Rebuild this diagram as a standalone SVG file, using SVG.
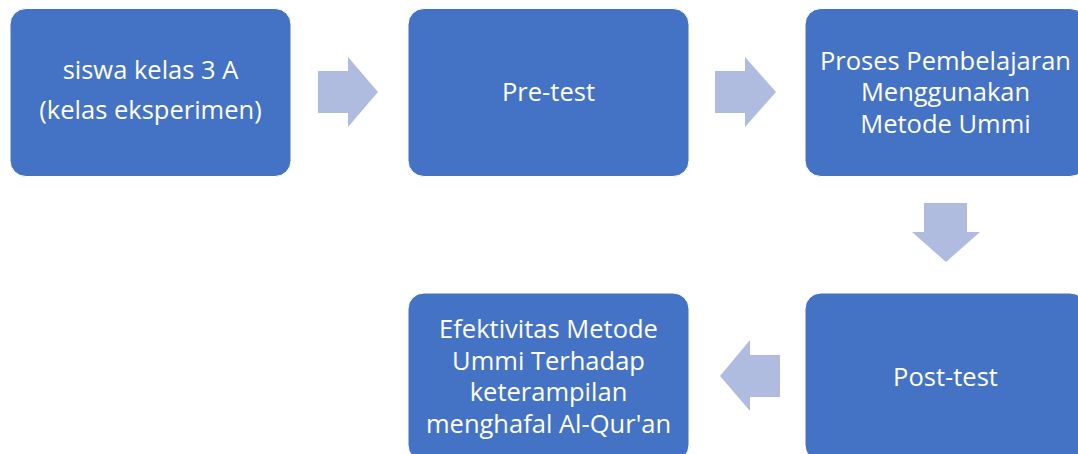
<svg xmlns="http://www.w3.org/2000/svg" width="1078" height="454" viewBox="0 0 1078 454">
<style>
.box{fill:#4472C4;stroke:#FFFFFF;stroke-width:1}
.arr{fill:#B0BCDF}
text{font-family:"Open Sans","Noto Sans",sans-serif;font-size:25.5px;fill:#FFFFFF;text-anchor:middle}
</style>
<rect width="1078" height="454" fill="#FFFFFF"/>
<g id="connectors">
<polygon class="arr" points="318,71 348,71 348,57 378,92 348,127 348,113 318,113"/>
<polygon class="arr" points="715,71 745,71 745,57 776,92 745,127 745,113 715,113"/>
<polygon class="arr" points="924,203 967,203 967,232 980,232 946,262 912,232 924,232"/>
<polygon class="arr" points="780,355 750,355 750,340 720,376 750,411 750,397 780,397"/>
</g>
<g id="n1">
<rect class="box" x="10" y="8.5" width="281" height="168" rx="16"/>
<text x="150.5" y="79">siswa kelas 3 A</text>
<text x="150.5" y="119">(kelas eksperimen)</text>
</g>
<g id="n2">
<rect class="box" x="408" y="8.5" width="281" height="168" rx="16"/>
<text x="548.5" y="101">Pre-test</text>
</g>
<g id="n3">
<rect class="box" x="805" y="8.5" width="281" height="168" rx="16"/>
<text x="945.5" y="70">Proses Pembelajaran</text>
<text x="945.5" y="101">Menggunakan</text>
<text x="945.5" y="133">Metode Ummi</text>
</g>
<g id="n4">
<rect class="box" x="805" y="293" width="281" height="168" rx="16"/>
<text x="945.5" y="386">Post-test</text>
</g>
<g id="n5">
<rect class="box" x="408" y="293" width="281" height="168" rx="16"/>
<text x="548.5" y="338">Efektivitas Metode</text>
<text x="548.5" y="370">Ummi Terhadap</text>
<text x="548.5" y="401">keterampilan</text>
<text x="548.5" y="433">menghafal Al-Qur'an</text>
</g>
</svg>
